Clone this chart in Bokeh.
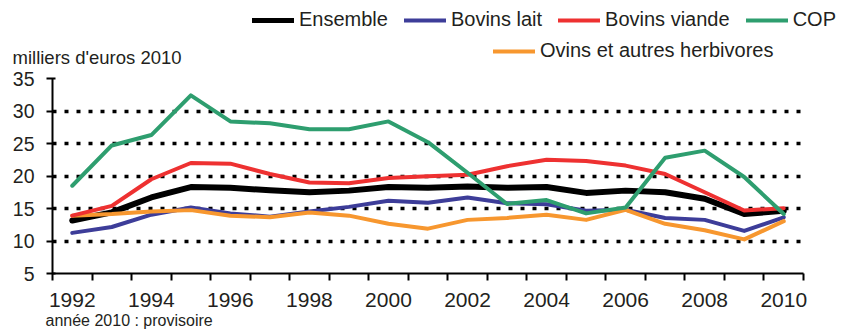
from bokeh.plotting import figure
from bokeh.models import Range1d, FixedTicker, Legend, Label, Title
from bokeh.layouts import column
from bokeh.embed import file_html
from bokeh.resources import INLINE

years = list(range(1992, 2011))
ensemble = [13.15, 14.4, 16.7, 18.3, 18.2, 17.8, 17.5, 17.75, 18.3, 18.2,
            18.4, 18.2, 18.3, 17.4, 17.75, 17.5, 16.5, 14.15, 14.65]
bovins_lait = [11.25, 12.15, 14.05, 15.15, 14.25, 13.75, 14.55, 15.25, 16.2, 15.9,
               16.7, 15.8, 15.65, 14.65, 14.8, 13.55, 13.25, 11.55, 13.65]
bovins_viande = [13.9, 15.4, 19.5, 22.0, 21.9, 20.3, 19.0, 18.9, 19.7, 19.95,
                 20.2, 21.5, 22.5, 22.3, 21.6, 20.3, 17.5, 14.7, 15.05]
cop = [18.5, 24.7, 26.3, 32.4, 28.4, 28.1, 27.2, 27.2, 28.4, 25.2,
       20.5, 15.7, 16.3, 14.25, 15.15, 22.8, 23.9, 19.85, 14.15]
ovins = [13.9, 14.15, 14.55, 14.75, 13.9, 13.65, 14.4, 13.9, 12.65, 11.9,
         13.25, 13.55, 14.05, 13.25, 14.8, 12.65, 11.65, 10.25, 13.05]

x_labels = list(range(1992, 2011, 2))
y_ticks = [5, 10, 15, 20, 25, 30, 35]
series_names = ["Ensemble", "Bovins lait", "Bovins viande", "COP", "Ovins et autres herbivores"]
colors = ["#000000", "#3D3D99", "#EE3131", "#2E9E6F", "#F7972F"]
widths = [6, 4, 4, 4, 4]
data = [ensemble, bovins_lait, bovins_viande, cop, ovins]

FONT = "Liberation Sans"
TXT = "#231F20"
W = 847
H_TOP = 67
H_MAIN = 331 - H_TOP

# ---------- header (legend + unit) ----------
# Its y range lies outside the data, so its lines only serve as legend keys.
top = figure(width=W, height=H_TOP, x_range=Range1d(1991.5, 2010.5), y_range=Range1d(100, 101),
             x_axis_type=None, y_axis_type=None, output_backend="svg", toolbar_location=None,
             min_border_left=0, min_border_right=0, min_border_top=0, min_border_bottom=0)
top.frame_align = False
top.outline_line_color = None
top.grid.visible = False
keys = {}
for i in range(5):
    keys[i] = top.line(years, data[i], line_color=colors[i], line_width=widths[i] if i else 5,
                       line_cap="round")

common = dict(orientation="horizontal", padding=0, margin=0, spacing=16, label_standoff=5,
              glyph_width=42, glyph_height=20, label_text_font=FONT,
              label_text_font_size="20px", label_text_color=TXT,
              border_line_alpha=0, background_fill_alpha=0)
leg1 = Legend(items=[(series_names[i], [keys[i]]) for i in range(4)], location=(252, 36), **common)
leg2 = Legend(items=[(series_names[4], [keys[4]])], location=(493, 5), **common)
top.add_layout(leg1)
top.add_layout(leg2)
top.add_layout(Label(x=12, y=10, x_units="screen", y_units="screen", text="milliers d'euros 2010",
                     text_font=FONT, text_font_size="18.5px", text_color=TXT,
                     text_baseline="alphabetic"))

# ---------- main chart ----------
p = figure(width=W, height=H_MAIN, x_range=Range1d(1991.5, 2010.5), y_range=Range1d(5, 35),
           output_backend="svg", toolbar_location=None,
           min_border_left=52, min_border_right=44, min_border_top=11, min_border_bottom=58)
p.frame_align = False
p.outline_line_color = None

p.xgrid.visible = False
p.ygrid.ticker = FixedTicker(ticks=y_ticks)
p.ygrid.grid_line_color = "black"
p.ygrid.grid_line_dash = "4 8"
p.ygrid.grid_line_width = 3.5

p.xaxis.ticker = FixedTicker(ticks=x_labels, minor_ticks=[y - 0.5 for y in range(1992, 2012)])
p.xaxis.major_tick_out = 0
p.xaxis.major_tick_in = 0
p.xaxis.minor_tick_out = 7
p.xaxis.minor_tick_in = 0
p.xaxis.minor_tick_line_width = 2
p.xaxis.minor_tick_line_color = "black"
p.xaxis.axis_line_width = 2
p.xaxis.major_label_standoff = 12
p.xaxis.major_label_text_font = FONT
p.xaxis.major_label_text_font_size = "21px"
p.xaxis.major_label_text_color = TXT

p.yaxis.ticker = FixedTicker(ticks=y_ticks)
p.yaxis.major_tick_out = 6
p.yaxis.major_tick_in = 3
p.yaxis.minor_tick_out = 0
p.yaxis.minor_tick_in = 0
p.yaxis.major_tick_line_width = 2
p.yaxis.axis_line_width = 2
p.yaxis.major_label_standoff = 12
p.yaxis.major_label_text_font = FONT
p.yaxis.major_label_text_font_size = "19.5px"
p.yaxis.major_label_text_color = TXT

for i in [0, 1, 4, 2, 3]:
    p.line(years, data[i], line_color=colors[i], line_width=widths[i],
           line_join="round", line_cap="round")

note = Title(text="année 2010 : provisoire", align="left", offset=-7, standoff=0,
             text_font=FONT, text_font_size="16px", text_font_style="normal", text_color=TXT)
p.add_layout(note, "below")

layout = column(top, p, spacing=0)
open("out.html", "w").write(file_html(layout, INLINE))
